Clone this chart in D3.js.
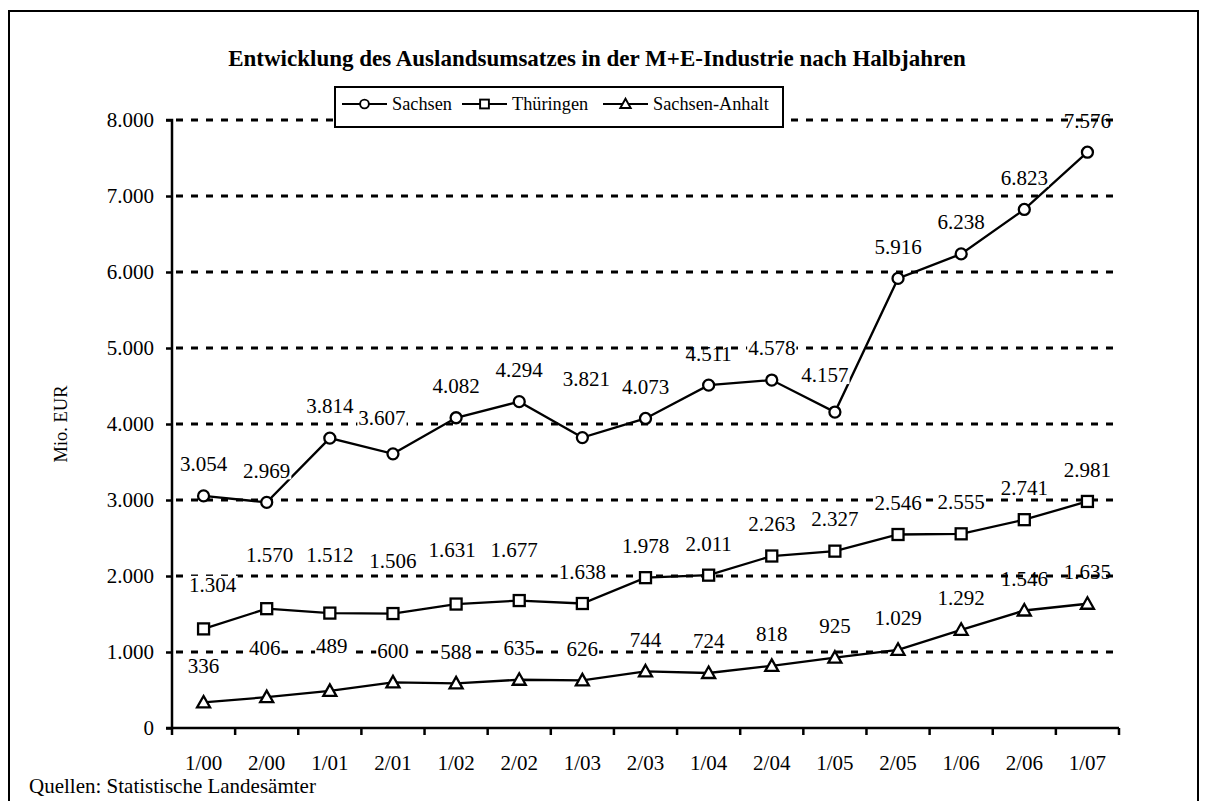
<!DOCTYPE html>
<html>
<head>
<meta charset="utf-8">
<script src="https://cdn.jsdelivr.net/npm/d3@7"></script>
<style>
  html, body { margin: 0; padding: 0; background: #fff; }
  svg { display: block; font-family: "Liberation Serif", "Times New Roman", serif; }
</style>
</head>
<body>
<svg id="chart" width="1206" height="801"></svg>
<script>
// half-year periods on the x axis
const categories = ["1/00", "2/00", "1/01", "2/01", "1/02", "2/02", "1/03", "2/03",
                    "1/04", "2/04", "1/05", "2/05", "1/06", "2/06", "1/07"];

// Auslandsumsatz, Mio. EUR
const sachsen       = [3054, 2969, 3814, 3607, 4082, 4294, 3821, 4073, 4511, 4578, 4157, 5916, 6238, 6823, 7576];
const thueringen    = [1304, 1570, 1512, 1506, 1631, 1677, 1638, 1978, 2011, 2263, 2327, 2546, 2555, 2741, 2981];
const sachsenAnhalt = [336, 406, 489, 600, 588, 635, 626, 744, 724, 818, 925, 1029, 1292, 1546, 1635];

const seriesNames = ["Sachsen", "Thüringen", "Sachsen-Anhalt"];
const yTicks = [0, 1000, 2000, 3000, 4000, 5000, 6000, 7000, 8000];

// hand-placed label nudges [dx, dy] in px (index -> offset), as in the original
const labelNudge = [
  { 3: [-11, -4], 6: [4, -27], 10: [-10, -5] },
  { 0: [9, -12], 1: [3, -22], 2: [0, -26], 3: [0, -21], 4: [-4, -22], 5: [-5, -19] },
  { 0: [0, -5], 1: [-2, -17], 2: [2, -13] }
];
// labels the gridline runs through (no white box) in the original
const labelNoBox = [[8, 14], [], [13, 14]];

const svg = d3.select("#chart");
const de = d3.formatLocale({ decimal: ",", thousands: ".", grouping: [3], currency: ["", " €"] });
const fmt = de.format(",d");

const plot = { left: 172, right: 1119, top: 120, bottom: 728 };

const x = d3.scaleBand().domain(categories).range([plot.left, plot.right]).padding(0);
const y = d3.scaleLinear().domain([0, 8000]).range([plot.bottom, plot.top]);
const cx = c => x(c) + x.bandwidth() / 2;

// outer frame
svg.append("rect")
  .attr("x", 9).attr("y", 11).attr("width", 1189).attr("height", 800)
  .attr("fill", "none").attr("stroke", "#000").attr("stroke-width", 2);

// title
svg.append("text")
  .attr("x", 597).attr("y", 66)
  .attr("text-anchor", "middle")
  .attr("font-weight", "bold").attr("font-size", 23)
  .text("Entwicklung des Auslandsumsatzes in der M+E-Industrie nach Halbjahren");

// dotted gridlines
svg.append("g").selectAll("line")
  .data(yTicks.filter(d => d > 0))
  .join("line")
  .attr("x1", plot.left).attr("x2", plot.right)
  .attr("y1", d => y(d)).attr("y2", d => y(d))
  .attr("stroke", "#000").attr("stroke-width", 3)
  .attr("stroke-dasharray", "7,8")
  .attr("stroke-dashoffset", -4);

// y axis
const yAxis = svg.append("g")
  .attr("transform", `translate(${plot.left},0)`)
  .call(d3.axisLeft(y).tickValues(yTicks).tickFormat(fmt).tickSize(6).tickPadding(12));
yAxis.select(".domain").attr("stroke-width", 2.5).attr("d", `M-6,${plot.top}H0V${plot.bottom}H-6`);
yAxis.selectAll(".tick line").attr("stroke-width", 2.5);
yAxis.selectAll("text").attr("font-size", 21).attr("font-family", "Liberation Serif").attr("fill", "#000");

svg.append("text")
  .attr("transform", "translate(67,424) rotate(-90)")
  .attr("text-anchor", "middle")
  .attr("font-size", 18.5)
  .text("Mio. EUR");

// x axis (ticks sit between categories)
const xAxis = svg.append("g")
  .attr("transform", `translate(0,${plot.bottom})`)
  .call(d3.axisBottom(x).tickSize(0).tickPadding(27));
xAxis.select(".domain").attr("stroke-width", 2.5).attr("d", `M${plot.left},0H${plot.right}`);
xAxis.selectAll("text").attr("font-size", 21).attr("font-family", "Liberation Serif").attr("fill", "#000");
svg.append("g").selectAll("line")
  .data(categories.map(c => x(c)).concat([plot.right]))
  .join("line")
  .attr("x1", d => d).attr("x2", d => d)
  .attr("y1", plot.bottom).attr("y2", plot.bottom + 7)
  .attr("stroke", "#000").attr("stroke-width", 2.5);

// markers
const markers = [
  (g) => g.append("circle").attr("r", 5.5),
  (g) => g.append("rect").attr("x", -5.5).attr("y", -5.5).attr("width", 11).attr("height", 11),
  (g) => g.append("path").attr("d", "M0,-6.5L6.5,5L-6.5,5Z")
];

const allSeries = [sachsen, thueringen, sachsenAnhalt];
const line = d3.line().x((d, i) => cx(categories[i])).y(d => y(d));

allSeries.forEach((vals, s) => {
  svg.append("path")
    .datum(vals)
    .attr("d", line)
    .attr("fill", "none").attr("stroke", "#000").attr("stroke-width", 2.3);

  vals.forEach((v, i) => {
    const g = svg.append("g")
      .attr("transform", `translate(${cx(categories[i])},${y(v)})`)
      .attr("fill", "#fff").attr("stroke", "#000").attr("stroke-width", 2.3);
    markers[s](g);
  });
});

// data labels (white box behind, like the original)
const labelLayer = svg.append("g");
allSeries.forEach((vals, s) => {
  vals.forEach((v, i) => {
    const [dx, dy] = labelNudge[s][i] || [0, 0];
    const lx = cx(categories[i]) + dx;
    const ly = y(v) - 32 + dy;
    const t = labelLayer.append("text")
      .attr("x", lx).attr("y", ly).attr("dy", "0.35em")
      .attr("text-anchor", "middle")
      .attr("font-size", 21)
      .text(fmt(v));
    if (labelNoBox[s].includes(i)) return;
    const bb = t.node().getBBox();
    labelLayer.insert("rect", () => t.node())
      .attr("x", bb.x - 1).attr("y", ly - 9).attr("width", bb.width + 2).attr("height", 18)
      .attr("fill", "#fff");
  });
});

// legend
const legend = svg.append("g");
legend.append("rect")
  .attr("x", 335).attr("y", 87).attr("width", 448).attr("height", 40)
  .attr("fill", "#fff").attr("stroke", "#000").attr("stroke-width", 2);
const legendX = [342, 462, 603];
seriesNames.forEach((name, s) => {
  const lx = legendX[s];
  legend.append("line")
    .attr("x1", lx).attr("x2", lx + 45).attr("y1", 104).attr("y2", 104)
    .attr("stroke", "#000").attr("stroke-width", 2);
  const g = legend.append("g")
    .attr("transform", `translate(${lx + 22.5},104) scale(0.8)`)
    .attr("fill", "#fff").attr("stroke", "#000").attr("stroke-width", 2.4);
  markers[s](g);
  legend.append("text")
    .attr("x", lx + 50).attr("y", 110)
    .attr("font-size", 18.3)
    .text(name);
});

// source note
svg.append("text")
  .attr("x", 29).attr("y", 793)
  .attr("font-size", 21)
  .text("Quellen: Statistische Landesämter");
</script>
</body>
</html>
